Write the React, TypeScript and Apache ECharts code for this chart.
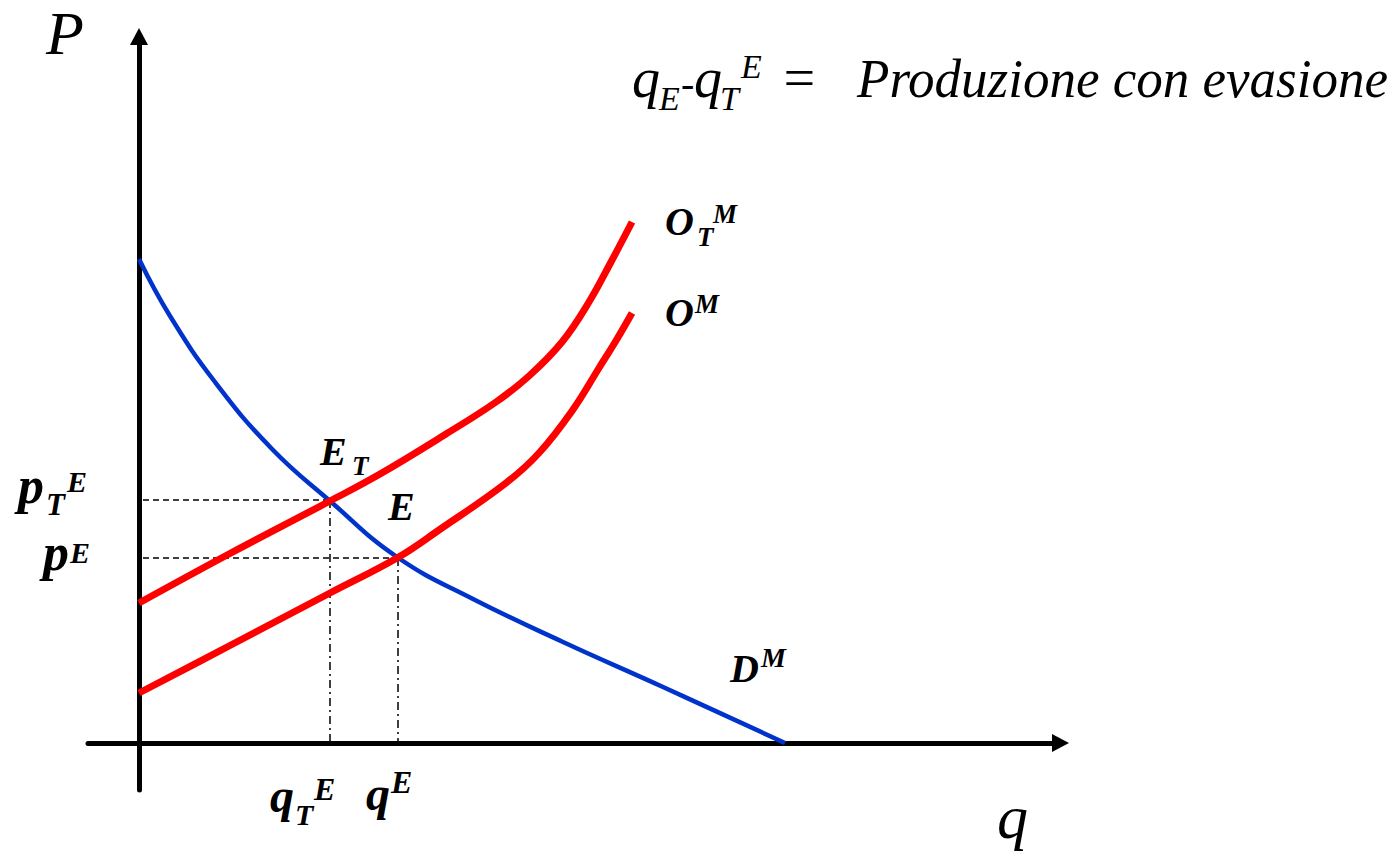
import React, { useEffect, useRef } from "react";
import * as echarts from "echarts";

// Demand curve D^M
const demandQ = [0, 3.1, 7.6, 13.3, 19.1, 25.8, 33.4, 42.4, 52.4, 64.6];
const demandP = [48.4, 42.7, 36.1, 29.4, 24.2, 18.6, 14.4, 10.1, 5.6, 0];
// Supply with tax O_T^M
const supplyTQ = [0, 9.0, 19.1, 24.1, 30.7, 35.7, 39.0, 42.3, 45.0, 47.2, 49.3];
const supplyTP = [14.0, 18.9, 24.2, 26.9, 30.9, 34.1, 36.7, 40.1, 44.1, 48.1, 52.1];
// Supply O^M
const supplyQ = [0, 9.0, 19.1, 25.8, 30.0, 36.7, 40.0, 43.3, 46.0, 47.8, 49.3];
const supplyP = [5.0, 9.7, 15.0, 18.5, 21.3, 26.0, 29.0, 33.2, 37.5, 40.4, 43.0];
// Equilibria: E_T and E
const eqNames = ["E_T", "E"];
const eqQ = [19.1, 25.9];
const eqP = [24.3, 18.5];

const SERIF = "Liberation Serif";

function txt(
  text: string,
  x: number,
  baseline: number,
  size: number,
  bold: boolean,
  scaleX = 1
) {
  return {
    type: "text",
    x,
    y: baseline - 0.3375 * size,
    scaleX,
    z: 100,
    style: {
      text,
      fill: "#000",
      fontFamily: SERIF,
      fontSize: size,
      fontStyle: "italic",
      fontWeight: bold ? "bold" : "normal",
      align: "left",
      verticalAlign: "middle",
    },
  };
}

function zip(xs: number[], ys: number[]) {
  return xs.map((x, i) => [x, ys[i]]);
}

export default function App() {
  const ref = useRef<HTMLDivElement>(null);
  useEffect(() => {
    if (!ref.current) return;
    const chart = echarts.init(ref.current, null, { renderer: "svg" });

    const guides: any[] = [];
    eqQ.forEach((q, i) => {
      guides.push({
        type: "line",
        name: eqNames[i] + "-h",
        data: [
          [0.4, eqP[i]],
          [q, eqP[i]],
        ],
        symbol: "none",
        silent: true,
        z: 1,
        lineStyle: { color: "#000", width: 1.5, type: [6, 4] },
      });
      guides.push({
        type: "line",
        name: eqNames[i] + "-v",
        data: [
          [q, eqP[i]],
          [q, 0],
        ],
        symbol: "none",
        silent: true,
        z: 1,
        lineStyle: { color: "#000", width: 1.5, type: [8, 4, 2, 4] },
      });
    });

    const axisCommon = {
      type: "value",
      axisLine: {
        show: true,
        onZero: true,
        symbol: ["none", "triangle"],
        symbolSize: [18, 17],
        lineStyle: { color: "#000", width: 5 },
      },
      axisTick: { show: false },
      axisLabel: { show: false },
      splitLine: { show: false },
    };

    chart.setOption({
      animation: false,
      backgroundColor: "#fff",
      grid: { left: 88, right: 338.5, top: 36.5, bottom: 62, containLabel: false },
      xAxis: { ...axisCommon, min: -5.1, max: 92.15 },
      yAxis: { ...axisCommon, min: -4.7, max: 70.65 },
      series: [
        ...guides,
        {
          type: "line",
          name: "D^M",
          data: zip(demandQ, demandP),
          smooth: 0.45,
          symbol: "none",
          z: 3,
          lineStyle: { color: "#0033cc", width: 4.5 },
        },
        {
          type: "line",
          name: "O_T^M",
          data: zip(supplyTQ, supplyTP),
          smooth: 0.4,
          symbol: "none",
          z: 4,
          lineStyle: { color: "#ff0000", width: 7, cap: "butt" },
        },
        {
          type: "line",
          name: "O^M",
          data: zip(supplyQ, supplyP),
          smooth: 0.4,
          symbol: "none",
          z: 4,
          lineStyle: { color: "#ff0000", width: 7, cap: "butt" },
        },
      ],
      graphic: [
        // Axis names
        txt("P", 46, 54, 62, false),
        txt("q", 997, 838, 62, false),
        // Title formula
        txt("q", 632, 97, 56, false),
        txt("E", 659, 110, 34, false),
        txt("-", 681, 97, 40, false),
        txt("q", 694, 97, 56, false),
        txt("T", 720, 110, 34, false),
        txt("E", 741, 78, 34, false),
        txt("=", 780, 97, 56, false),
        txt("Produzione con evasione", 857, 97, 56, false, 0.947),
        // Curve labels
        txt("O", 665, 235, 40, true),
        txt("T", 697, 246, 27, true),
        txt("M", 713, 223, 27, true),
        txt("O", 665, 326, 40, true),
        txt("M", 695, 313, 27, true),
        txt("D", 730, 682, 40, true),
        txt("M", 761, 667, 28, true),
        // Equilibrium labels
        txt("E", 320, 465, 40, true),
        txt("T", 352, 475, 27, true),
        txt("E", 388, 520, 40, true),
        // Price labels
        txt("p", 18, 503, 52, true),
        txt("T", 46, 515, 31, true),
        txt("E", 67, 492, 30, true),
        txt("p", 43, 570, 52, true),
        txt("E", 70, 563, 30, true),
        // Quantity labels
        txt("q", 270, 812, 48, true),
        txt("T", 295, 825, 30, true),
        txt("E", 314, 800, 32, true),
        txt("q", 366, 810, 48, true),
        txt("E", 391, 793, 32, true),
      ],
    });
    return () => chart.dispose();
  }, []);
  return (
    <div
      ref={ref}
      style={{ position: "absolute", left: 0, top: 0, width: 1399, height: 852 }}
    />
  );
}
